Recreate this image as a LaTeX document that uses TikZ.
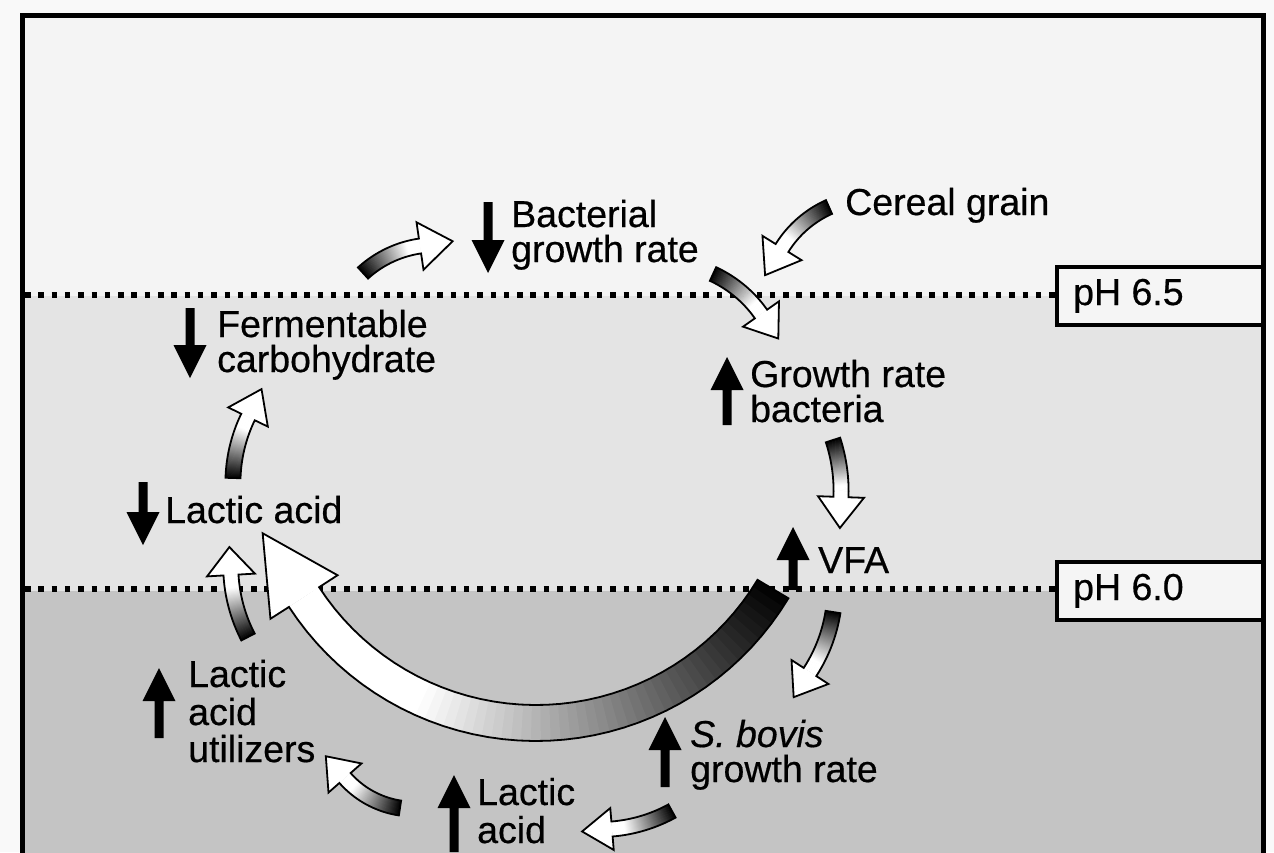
\documentclass[tikz,border=0pt]{standalone}
\usepackage{fontspec}
\setmainfont{Liberation Sans}[FakeBold=0.5]
\newcommand{\lbfont}{\fontsize{37.5}{35}\selectfont}
\definecolor{topbg}{gray}{0.955}
\definecolor{midbg}{gray}{0.895}
\definecolor{lowbg}{gray}{0.77}
\definecolor{outbg}{gray}{0.975}
\tikzset{
  lbl/.style={anchor=base west, inner sep=0pt, font=\lbfont},
  dotline/.style={line width=5.5pt, dash pattern=on 5.5pt off 7.8pt},
  phbox/.style={draw=black, line width=3.5pt, fill=white!96!black, rectangle, inner sep=0pt, anchor=north west},
  outl/.style={line width=1.8pt, line join=miter, draw=black},
}
% curved gradient block arrow: Tx Ty Bx By bend width headhalfwidth headlength fade
\newcommand{\garr}[9]{%
  \pgfmathsetmacro\gdx{#3-#1}%
  \pgfmathsetmacro\gdy{#4-#2}%
  \pgfmathsetmacro\gL{100*sqrt((\gdx/100)*(\gdx/100)+(\gdy/100)*(\gdy/100))}%
  \pgfmathsetmacro\gR{\gL/(2*sin(abs(#5)))}%
  \pgfmathsetmacro\gh{\gR*cos(abs(#5))}%
  \pgfmathsetmacro\gs{(#5>0)?1:-1}%
  \pgfmathsetmacro\gCx{(#1+#3)/2-\gs*\gh*(\gdy/\gL)}%
  \pgfmathsetmacro\gCy{(#2+#4)/2+\gs*\gh*(\gdx/\gL)}%
  \pgfmathsetmacro\gaA{atan2(#2-\gCy,#1-\gCx)}%
  \pgfmathsetmacro\gaB{\gaA+2*(#5)}%
  \pgfmathsetmacro\gd{\gaB+\gs*90}%
  \pgfmathsetmacro\gtipx{\gCx+\gR*cos(\gaB)+#8*cos(\gd)}%
  \pgfmathsetmacro\gtipy{\gCy+\gR*sin(\gaB)+#8*sin(\gd)}%
  \pgfmathsetmacro\gw{#6/2}%
  \fill[white] ({\gCx+(\gR-#7)*cos(\gaB)},{\gCy+(\gR-#7)*sin(\gaB)}) -- (\gtipx,\gtipy) -- ({\gCx+(\gR+#7)*cos(\gaB)},{\gCy+(\gR+#7)*sin(\gaB)}) -- cycle;
  \foreach \gi in {1,...,60}{%
    \pgfmathsetmacro\gta{(\gi-1)/60}%
    \pgfmathsetmacro\gtb{min(1,\gi/60+0.008)}%
    \pgfmathsetmacro\gp{max(0,100*(1-(\gta+0.008)/#9))}%
    \draw[line width=#6, draw=black!\gp] plot[domain=\gta:\gtb, samples=3, variable=\gv] ({\gCx+\gR*cos(\gaA+\gv*(\gaB-\gaA))},{\gCy+\gR*sin(\gaA+\gv*(\gaB-\gaA))});
  }%
  \draw[outl] plot[domain=0:1, samples=40, variable=\gv] ({\gCx+(\gR+\gw)*cos(\gaA+\gv*(\gaB-\gaA))},{\gCy+(\gR+\gw)*sin(\gaA+\gv*(\gaB-\gaA))})
    -- ({\gCx+(\gR+#7)*cos(\gaB)},{\gCy+(\gR+#7)*sin(\gaB)}) -- (\gtipx,\gtipy)
    -- ({\gCx+(\gR-#7)*cos(\gaB)},{\gCy+(\gR-#7)*sin(\gaB)})
    -- plot[domain=0:1, samples=40, variable=\gv] ({\gCx+(\gR-\gw)*cos(\gaB+\gv*(\gaA-\gaB))},{\gCy+(\gR-\gw)*sin(\gaB+\gv*(\gaA-\gaB))}) -- cycle;
}
% solid up / down arrows: x, y of tail, y of tip
\newcommand{\uarr}[3]{\fill (#1-4.5,#2) -- (#1-4.5,#3+33) -- (#1-16.5,#3+33) -- (#1,#3) -- (#1+16.5,#3+33) -- (#1+4.5,#3+33) -- (#1+4.5,#2) -- cycle;}
\newcommand{\darr}[3]{\fill (#1-4.5,#2) -- (#1-4.5,#3-33) -- (#1-16.5,#3-33) -- (#1,#3) -- (#1+16.5,#3-33) -- (#1+4.5,#3-33) -- (#1+4.5,#2) -- cycle;}
\begin{document}
\begin{tikzpicture}[x=1pt,y=-1pt]
\useasboundingbox (0,0) rectangle (1274,852);
\clip (0,0) rectangle (1274,852);
% backgrounds
\fill[outbg] (0,0) rectangle (1274,852);
\fill[topbg] (22,15) rectangle (1263,296);
\fill[midbg] (22,296) rectangle (1263,591);
\fill[lowbg] (22,591) rectangle (1263,860);
% pH levels
\draw[dotline] (25,295) -- (1055,295);
\draw[dotline] (25,589) -- (1055,589);
\node[phbox, minimum width=207pt, minimum height=58pt] (box65) at (1055,265) {};
\node[phbox, minimum width=207pt, minimum height=58pt] (box60) at (1055,560) {};
\node[lbl] (ph65) at (1073,305) {pH 6.5};
\node[lbl] (ph60) at (1073,600) {pH 6.0};
% frame
\draw[line width=5pt, line join=miter] (22,870) -- (22,15) -- (1263,15) -- (1263,870);
% big curved arrow
\garr{773}{589}{304}{597}{58}{36}{40}{76}{0.72}
% small curved arrows
\garr{363}{273}{420}{246}{17}{15}{24}{33}{0.8}
\garr{829}{207}{782}{248}{-17}{15}{23}{32}{0.8}
\garr{713}{274}{761}{314}{15}{15}{22}{30}{0.8}
\garr{833}{440}{841}{497}{10}{15}{23}{31}{0.8}
\garr{833}{612}{810}{672}{12}{15}{22}{30}{0.8}
\garr{672}{811}{612}{829}{12}{15}{21}{30}{0.8}
\garr{400}{808}{345}{778}{20}{15}{22}{29}{0.8}
\garr{248}{637}{231}{575}{12}{15}{24}{28}{0.8}
\garr{233}{478}{248}{417}{12}{15}{22}{31}{0.8}
% up / down indicators
\darr{488}{202}{273}
\darr{190}{308}{378}
\darr{143}{482}{545}
\uarr{727}{425}{357}
\uarr{793}{590}{527}
\uarr{665}{787}{717}
\uarr{159}{738}{668}
\uarr{454}{852}{775}
% labels
\node[lbl] (bac1) at (511,227) {Bacterial};
\node[lbl] (bac2) at (511,262) {growth rate};
\node[lbl] (cer) at (845,215) {Cereal grain};
\node[lbl] (fer1) at (217,337) {Fermentable};
\node[lbl] (fer2) at (217,372) {carbohydrate};
\node[lbl] (lac) at (165,523) {Lactic acid};
\node[lbl] (gr1) at (750,387) {Growth rate};
\node[lbl] (gr2) at (750,422) {bacteria};
\node[lbl] (vfa) at (818,573) {VFA};
\node[lbl] (sb1) at (690,747) {\textit{S. bovis}};
\node[lbl] (sb2) at (690,782) {growth rate};
\node[lbl] (lu1) at (188,687) {Lactic};
\node[lbl] (lu2) at (188,725) {acid};
\node[lbl] (lu3) at (188,762) {utilizers};
\node[lbl] (lb1) at (477,805) {Lactic};
\node[lbl] (lb2) at (477,843) {acid};
\end{tikzpicture}
\end{document}
